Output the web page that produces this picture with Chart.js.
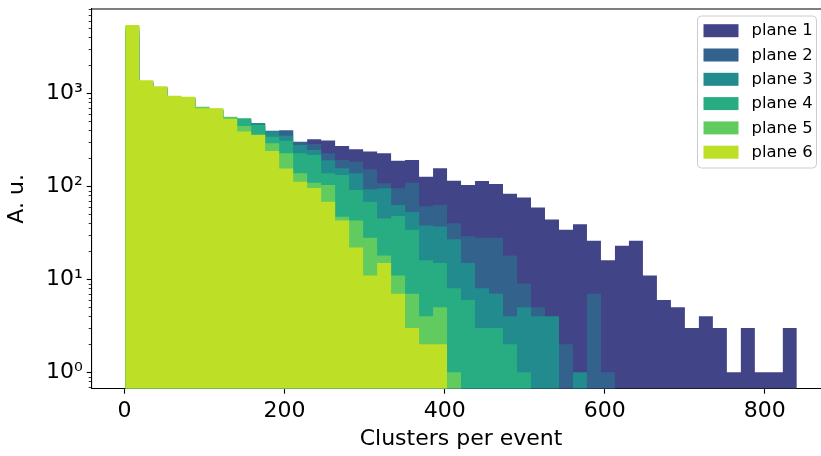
<!DOCTYPE html>
<html>
<head>
<meta charset="utf-8">
<script src="https://cdn.jsdelivr.net/npm/chart.js@4.4.1/dist/chart.umd.min.js"></script>
<style>
html,body{margin:0;padding:0;background:#fff;overflow:hidden;}
#wrap{width:840px;height:456px;}
</style>
</head>
<body>
<div id="wrap"><canvas id="histo" width="840" height="456"></canvas></div>
<script>
// Histogramas de clusters por evento, 6 planos, eje y logarítmico.
// Los bins van de 1 a 840 (48 bins); los conteos se leyeron del gráfico original.

const FONT = '"DejaVu Sans", sans-serif';

const binStart = 1;
const binWidth = 17.479;
const nBins = 48;

const xTicks = [0, 200, 400, 600, 800];
const yTicks = [1, 10, 100, 1000];
const yTickLabels = ['10⁰', '10¹', '10²', '10³'];

const planeNames = ['plane 1', 'plane 2', 'plane 3', 'plane 4', 'plane 5', 'plane 6'];
const planeColors = ['#414487', '#33638d', '#228b8d', '#27ad81', '#62cb5f', '#bddf26'];

// conteos por bin (bin 0 = 1..18.5 clusters)
const plane1 = [4000, 1250, 1100, 880, 850, 680, 640, 520, 500, 440, 380, 390, 300, 320, 310, 271,
                250, 236, 226, 188, 192, 127, 156, 115, 103, 114, 106, 83, 76, 59, 44, 34,
                39, 26, 16, 23, 26, 11, 6, 5, 3, 4, 3, 1, 3, 1, 1, 3];
const plane2 = [4500, 1300, 1150, 900, 880, 700, 660, 540, 520, 470, 395, 400, 302, 285, 226, 192,
                184, 152, 108, 95, 109, 61, 63, 40, 29, 28, 28, 18, 9, 5, 2, 2,
                0, 7, 1];
const plane3 = [4800, 1320, 1160, 910, 890, 705, 670, 550, 530, 480, 390, 350, 278, 246, 190, 156,
                138, 93, 95, 63, 53, 38, 37, 27, 15, 8, 7, 4, 5, 4, 4, 0,
                1];
const plane4 = [5100, 1340, 1165, 920, 900, 710, 675, 555, 539, 456, 341, 309, 226, 217, 138, 132,
                91, 68, 45, 48, 34, 16, 15, 8, 6, 3, 3, 2, 1];
const plane5 = [5300, 1350, 1170, 930, 910, 718, 680, 560, 445, 360, 290, 226, 138, 109, 103, 47,
                43, 28, 18, 11, 7, 4, 5, 1];
const plane6 = [5420, 1380, 1190, 942, 919, 690, 690, 530, 387, 356, 239, 155, 112, 96, 68, 43,
                22, 11, 15, 7, 3, 2, 2];

const planeCounts = [plane1, plane2, plane3, plane4, plane5, plane6];

const X_MIN = -40.95, X_MAX = 881.95;
const Y_MIN = 0.667, Y_MAX = 8050;

const binEdges = Array.from({length: nBins + 1}, (_, i) => binStart + i * binWidth);

// histograma "stepfilled": un punto por borde izquierdo + cierre en el borde derecho
function stepPoints(counts){
  const pts = counts.map((c, i) => ({x: binEdges[i], y: c > 0 ? c : Y_MIN / 10}));
  const last = counts[counts.length - 1];
  pts.push({x: binEdges[counts.length], y: last > 0 ? last : Y_MIN / 10});
  return pts;
}

const datasets = planeCounts.map((counts, k) => ({
  label: planeNames[k],
  data: stepPoints(counts),
  stepped: true,
  fill: 'start',
  backgroundColor: planeColors[k],
  borderColor: planeColors[k],
  borderWidth: 0,
  pointRadius: 0,
  tension: 0,
  order: planeNames.length - k   // plane 6 arriba
}));

// marco superior + ticks menores del eje log
const axesExtras = {
  id: 'axesExtras',
  afterDraw(chart){
    const ctx = chart.ctx, a = chart.chartArea, ys = chart.scales.y;
    ctx.save();
    ctx.strokeStyle = '#000';
    ctx.lineWidth = 1.1;
    ctx.beginPath();
    ctx.moveTo(a.left - 0.5, a.top);
    ctx.lineTo(a.right + 1, a.top);
    ctx.stroke();
    ctx.lineWidth = 0.8;
    ctx.beginPath();
    for (let d = -1; d <= 3; d++){
      for (let m = 2; m <= 9; m++){
        const v = m * Math.pow(10, d);
        if (v < Y_MIN || v > Y_MAX) continue;
        const py = Math.round(ys.getPixelForValue(v)) + 0.5;
        ctx.moveTo(a.left - 3, py);
        ctx.lineTo(a.left, py);
      }
    }
    ctx.stroke();
    ctx.restore();
  }
};

// leyenda estilo matplotlib (caja redondeada, parches rectangulares)
const legendBox = {
  id: 'legendBox',
  afterDraw(chart){
    const ctx = chart.ctx;
    const bx = 697.5, by = 16, bw = 119, bh = 152, r = 4;
    ctx.save();
    ctx.beginPath();
    ctx.moveTo(bx + r, by);
    ctx.arcTo(bx + bw, by, bx + bw, by + bh, r);
    ctx.arcTo(bx + bw, by + bh, bx, by + bh, r);
    ctx.arcTo(bx, by + bh, bx, by, r);
    ctx.arcTo(bx, by, bx + bw, by, r);
    ctx.closePath();
    ctx.fillStyle = 'rgba(255,255,255,0.8)';
    ctx.fill();
    ctx.strokeStyle = '#cccccc';
    ctx.lineWidth = 1;
    ctx.stroke();
    ctx.font = '16.4px ' + FONT;
    ctx.textBaseline = 'middle';
    ctx.textAlign = 'left';
    planeNames.forEach((name, i) => {
      const cy = 30.7 + i * 24.3;
      ctx.fillStyle = planeColors[i];
      ctx.fillRect(703.5, cy - 6.5, 35, 13);
      ctx.fillStyle = '#000';
      ctx.fillText(name, 751.5, cy + 0.5);
    });
    ctx.restore();
  }
};

new Chart(document.getElementById('histo'), {
  type: 'line',
  data: {datasets},
  options: {
    responsive: false,
    animation: false,
    events: [],
    layout: {padding: {top: 9, right: 9.6, left: 0, bottom: 0}},
    plugins: {legend: {display: false}, tooltip: {enabled: false}},
    scales: {
      x: {
        type: 'linear', min: X_MIN, max: X_MAX,
        afterBuildTicks: s => { s.ticks = xTicks.map(v => ({value: v})); },
        afterFit: s => { s.height = 67.3; s.paddingLeft = 0; s.paddingRight = 0; },
        grid: {drawOnChartArea: false, drawTicks: true, tickLength: 5, tickColor: '#000', tickWidth: 1.1},
        border: {display: true, color: '#000', width: 1.1},
        ticks: {color: '#000', font: {family: FONT, size: 22}, padding: 4, maxRotation: 0, autoSkip: false},
        title: {display: true, text: 'Clusters per event', color: '#000',
                font: {family: FONT, size: 22}, padding: {top: 0, bottom: 4}}
      },
      y: {
        type: 'logarithmic', min: Y_MIN, max: Y_MAX,
        afterBuildTicks: s => { s.ticks = yTicks.map(v => ({value: v})); },
        afterFit: s => { s.width = 91.7; s.paddingTop = 0; s.paddingBottom = 0; },
        grid: {drawOnChartArea: false, drawTicks: true, tickLength: 5, tickColor: '#000', tickWidth: 1.1},
        border: {display: true, color: '#000', width: 1.1},
        ticks: {color: '#000', font: {family: FONT, size: 22}, padding: 4, autoSkip: false,
                callback: v => yTickLabels[yTicks.indexOf(v)]},
        title: {display: true, text: 'A. u.', color: '#000',
                font: {family: FONT, size: 22}, padding: {top: 4, bottom: 0}}
      }
    }
  },
  plugins: [axesExtras, legendBox]
});
</script>
</body>
</html>
